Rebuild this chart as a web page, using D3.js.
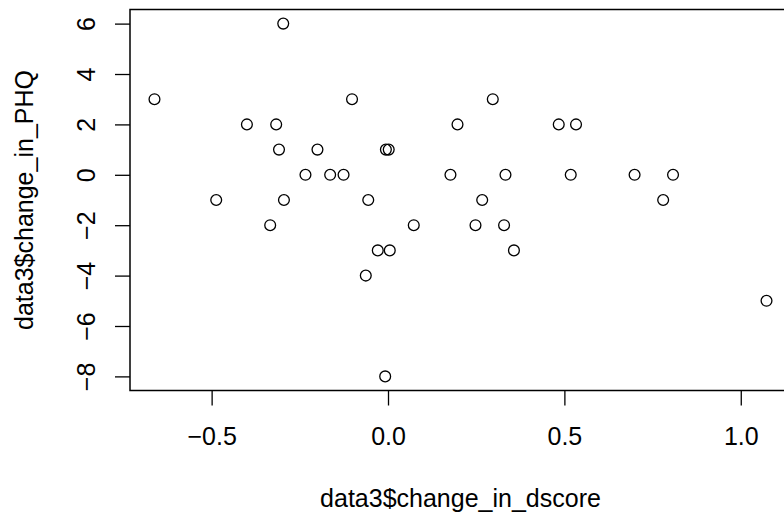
<head>
    <meta charset="utf-8">
    <style> body { margin: 0; background: #fff; } svg text { font-family: "Liberation Sans", Arial, sans-serif; fill: #000; } </style>
    <script src="https://d3js.org/d3.v7.min.js"></script>
</head>
<body>
<div id="chart"></div>
<script>

    // values
    var dscore = [-0.662, -0.297, -0.102, -0.400, -0.317, -0.309, -0.200, -0.006, 0.002,
                  -0.234, -0.164, -0.126, -0.487, -0.295, -0.056, -0.334, -0.029, 0.005,
                  -0.063, -0.008, 0.297, 0.197, 0.484, 0.533, 0.177, 0.333, 0.518, 0.699,
                  0.808, 0.267, 0.780, 0.073, 0.248, 0.329, 0.357, 1.073];
    var phq    = [3, 6, 3, 2, 2, 1, 1, 1, 1,
                  0, 0, 0, -1, -1, -1, -2, -3, -3,
                  -4, -8, 3, 2, 2, 2, 0, 0, 0, 0,
                  0, -1, -1, -2, -2, -2, -3, -5];
    var xTicks = [-0.5, 0.0, 0.5, 1.0];
    var yTicks = [-8, -6, -4, -2, 0, 2, 4, 6];
    var xTitle = "data3$change_in_dscore",
        yTitle = "data3$change_in_PHQ";

    var W = 784, H = 523;
    var box = {left: 130, right: 791, top: 9.5, bottom: 390.5};
    var fs = 25;

    var svg = d3.select("#chart").append("svg")
        .attr("width", W)
        .attr("height", H);

    // R style 4% padding
    function pad(ext) {
        var d = (ext[1] - ext[0]) * 0.04;
        return [ext[0] - d, ext[1] + d];
    }

    var x = d3.scaleLinear()
        .domain(pad(d3.extent(dscore)))
        .range([box.left, box.right]);

    var y = d3.scaleLinear()
        .domain(pad(d3.extent(phq)))
        .range([box.bottom, box.top]);

    var xx = svg.append("g")
        .attr("transform", "translate(0," + box.bottom + ")")
        .call(d3.axisBottom(x).tickValues(xTicks).tickSize(15).tickPadding(22).tickFormat(d3.format(".1f")));

    var yx = svg.append("g")
        .attr("transform", "translate(" + box.left + ",0)")
        .call(d3.axisLeft(y).tickValues(yTicks).tickSize(15).tickFormat(d3.format("d")));

    svg.selectAll(".domain").remove();
    svg.selectAll(".tick line").attr("stroke", "#000").attr("stroke-width", 1.3);
    svg.selectAll(".tick text").attr("font-size", fs).attr("fill", "#000");

    // rotated y tick labels like base R
    yx.selectAll(".tick text")
        .attr("x", null).attr("dy", null)
        .attr("text-anchor", "middle")
        .attr("transform", "translate(-35.5,0) rotate(-90)");

    svg.append("rect")
        .attr("x", box.left)
        .attr("y", box.top)
        .attr("width", box.right - box.left)
        .attr("height", box.bottom - box.top)
        .attr("fill", "none")
        .attr("stroke", "#000")
        .attr("stroke-width", 1.5);

    svg.append("g").selectAll("circle")
        .data(dscore)
        .join("circle")
        .attr("cx", d => x(d))
        .attr("cy", (d, i) => y(phq[i]))
        .attr("r", 5.4)
        .attr("fill", "none")
        .attr("stroke", "#000")
        .attr("stroke-width", 1.3);

    svg.append("text")
        .attr("x", (box.left + box.right) / 2)
        .attr("y", 507)
        .attr("text-anchor", "middle")
        .attr("font-size", fs)
        .text(xTitle);

    svg.append("text")
        .attr("transform", "translate(33," + (box.top + box.bottom) / 2 + ") rotate(-90)")
        .attr("text-anchor", "middle")
        .attr("font-size", fs)
        .text(yTitle);

</script>
</body>
